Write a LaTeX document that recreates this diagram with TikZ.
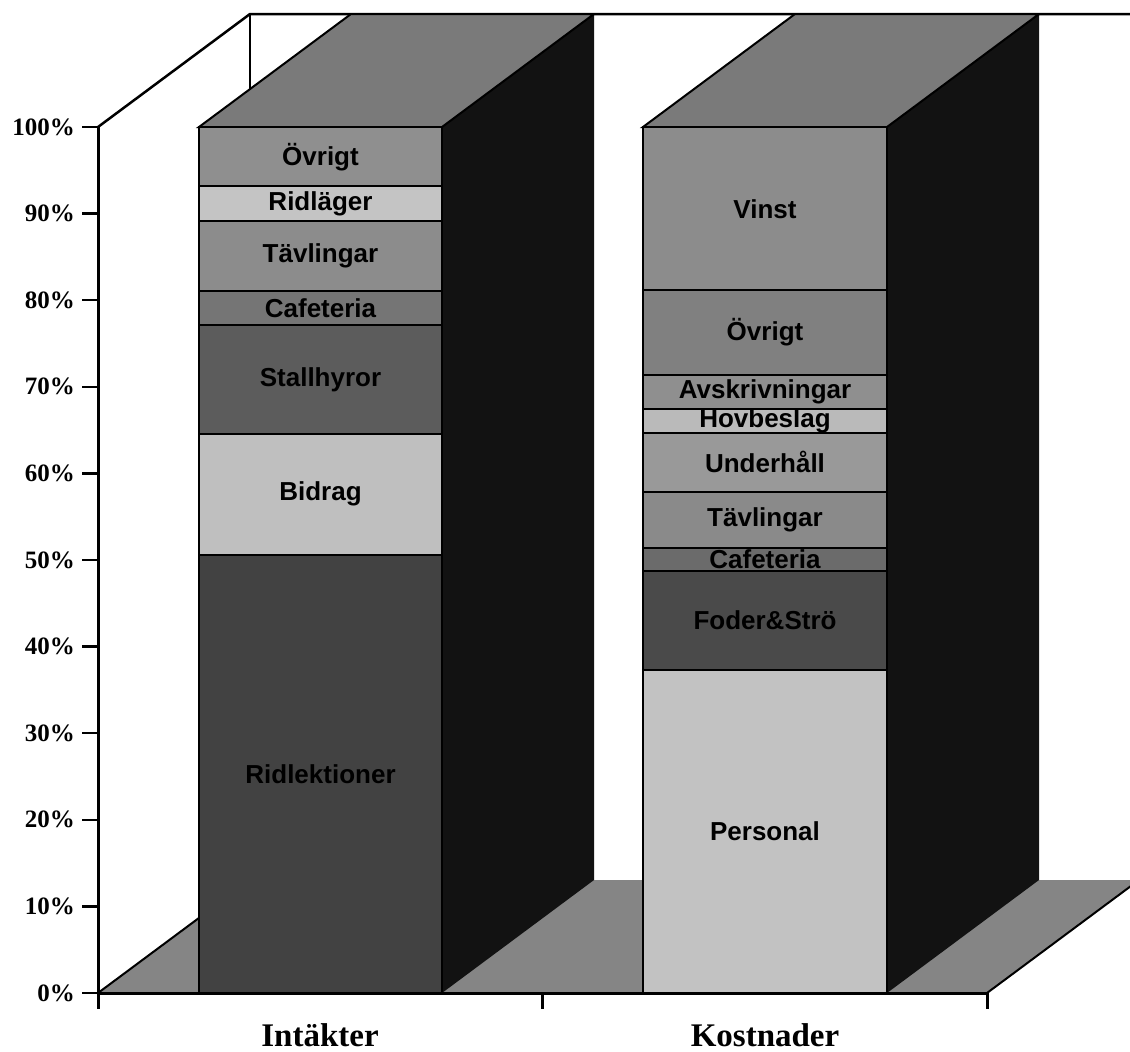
\documentclass[tikz,border=0pt]{standalone}
\usepackage{fontspec}
\setmainfont{Liberation Serif}
\setsansfont{Liberation Sans}
\definecolor{floorc}{gray}{0.52}
\definecolor{topc}{gray}{0.48}
\definecolor{sidec}{gray}{0.07}
\definecolor{ovr}{gray}{0.56}
\definecolor{ridl}{gray}{0.77}
\definecolor{tavl}{gray}{0.55}
\definecolor{cafe}{gray}{0.46}
\definecolor{stall}{gray}{0.36}
\definecolor{bidr}{gray}{0.75}
\definecolor{ridlek}{gray}{0.26}
\definecolor{vinst}{gray}{0.55}
\definecolor{ovr2}{gray}{0.50}
\definecolor{avsk}{gray}{0.56}
\definecolor{hovb}{gray}{0.73}
\definecolor{underh}{gray}{0.60}
\definecolor{tavl2}{gray}{0.54}
\definecolor{cafe2}{gray}{0.42}
\definecolor{foder}{gray}{0.29}
\definecolor{pers}{gray}{0.76}
\begin{document}
\begin{tikzpicture}[x=1pt,y=-1pt,line join=miter]
\tikzset{
  edge/.style={draw=black,line width=2pt},
  seglabel/.style={font=\sffamily\bfseries\fontsize{26}{28}\selectfont,text=black,inner sep=0pt},
  axlabel/.style={font=\rmfamily\bfseries\fontsize{25}{27}\selectfont,anchor=east,inner sep=0pt},
  catlabel/.style={font=\rmfamily\bfseries\fontsize{33}{36}\selectfont,inner sep=0pt,anchor=base},
  axisline/.style={draw=black,line width=3pt},
}
\useasboundingbox (0,0) rectangle (1130,1052);
\clip (0,0) rectangle (1130,1052);
% floor
\fill[floorc] (98,993) -- (987,993) -- (1139,880) -- (250,880) -- cycle;
\draw[edge] (98,993) -- (250,880);
\draw[edge] (987,993) -- (1139,880);
% walls
\draw[edge,line width=2.5pt] (98,127) -- (250,14) -- (1139,14);
\draw[edge] (250,14) -- (250,880);
% ---------- bar 1 ----------
\fill[sidec] (442,127) -- (594,14) -- (594,880) -- (442,993) -- cycle;
\filldraw[fill=topc,edge] (199,127) -- (351,14) -- (594,14) -- (442,127) -- cycle;
\fill[ridlek] (199,555) rectangle (442,993);
\fill[bidr] (199,434) rectangle (442,555);
\fill[stall] (199,325) rectangle (442,434);
\fill[cafe] (199,291) rectangle (442,325);
\fill[tavl] (199,221) rectangle (442,291);
\fill[ridl] (199,186) rectangle (442,221);
\fill[ovr] (199,127) rectangle (442,186);
\foreach \yy in {555,434,325,291,221,186} \draw[edge] (199,\yy) -- (442,\yy);
\draw[edge] (199,127) rectangle (442,993);
\node[seglabel] (a1) at (320.5,157) {Övrigt};
\node[seglabel] (a2) at (320.5,204) {Ridläger};
\node[seglabel] (a3) at (320.5,256) {Tävlingar};
\node[seglabel] (a4) at (320.5,308) {Cafeteria};
\node[seglabel] (a5) at (320.5,380) {Stallhyror};
\node[seglabel] (a6) at (320.5,494) {Bidrag};
\node[seglabel] (a7) at (320.5,774) {Ridlektioner};
% ---------- bar 2 ----------
\fill[sidec] (887,127) -- (1039,14) -- (1039,880) -- (887,993) -- cycle;
\filldraw[fill=topc,edge] (643,127) -- (795,14) -- (1039,14) -- (887,127) -- cycle;
\fill[pers] (643,670) rectangle (887,993);
\fill[foder] (643,571) rectangle (887,670);
\fill[cafe2] (643,548) rectangle (887,571);
\fill[tavl2] (643,492) rectangle (887,548);
\fill[underh] (643,433) rectangle (887,492);
\fill[hovb] (643,409) rectangle (887,433);
\fill[avsk] (643,375) rectangle (887,409);
\fill[ovr2] (643,290) rectangle (887,375);
\fill[vinst] (643,127) rectangle (887,290);
\foreach \yy in {670,571,548,492,433,409,375,290} \draw[edge] (643,\yy) -- (887,\yy);
\draw[edge] (643,127) rectangle (887,993);
\node[seglabel] (b1) at (765,209) {Vinst};
\node[seglabel] (b2) at (765,332) {Övrigt};
\node[seglabel] (b3) at (765,392) {Avskrivningar};
\node[seglabel] (b4) at (765,421) {Hovbeslag};
\node[seglabel] (b5) at (765,462) {Underhåll};
\node[seglabel] (b6) at (765,520) {Tävlingar};
\node[seglabel] (b7) at (765,559) {Cafeteria};
\node[seglabel] (b8) at (765,620) {Foder\&Strö};
\node[seglabel] (b9) at (765,831) {Personal};
% ---------- axes ----------
\draw[axisline] (98,127) -- (98,1009);
\draw[axisline] (98,993) -- (987,993);
\draw[axisline] (542,993) -- (542,1009);
\draw[axisline] (987,993) -- (987,1009);
\foreach \k in {0,...,10} {
  \pgfmathtruncatemacro\pc{10*\k}
  \draw[axisline,line width=2.5pt] (82,{993-86.6*\k}) -- (98,{993-86.6*\k});
  \node[axlabel] (p\k) at (75,{993-86.6*\k}) {\pc\%};
}
\node[catlabel] (c1) at (320,1046) {Intäkter};
\node[catlabel] (c2) at (765,1046) {Kostnader};
\end{tikzpicture}
\end{document}
